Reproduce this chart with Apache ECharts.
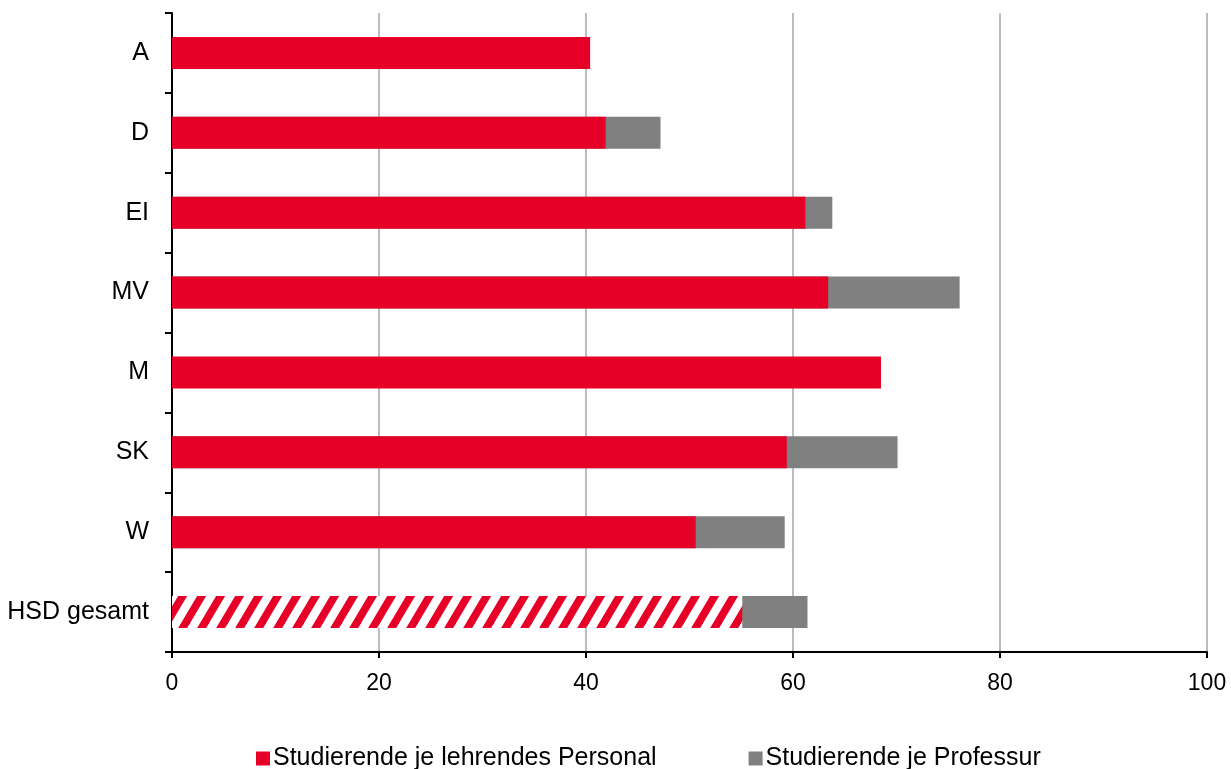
<!DOCTYPE html>
<html>
<head>
<meta charset="utf-8">
<script src="https://cdn.jsdelivr.net/npm/echarts@6/dist/echarts.min.js"></script>
<style>
html,body{margin:0;padding:0;background:#fff;}
#chart{width:1231px;height:769px;}
</style>
</head>
<body>
<div id="chart"></div>
<script>
var categories = ['A', 'D', 'EI', 'MV', 'M', 'SK', 'W', 'HSD gesamt'];
var lehrendes = [40.4, 41.9, 61.2, 63.4, 68.5, 59.4, 50.6, 55.1];
var professur = [null, 47.2, 63.8, 76.1, null, 70.1, 59.2, 61.4];
var xTicks = [0, 20, 40, 60, 80, 100];

var RED = '#E60028';
var GRAY = '#808080';

// hatch pattern for total bar
var pat = document.createElement('canvas');
pat.width = 19; pat.height = 32;
var c = pat.getContext('2d');
c.fillStyle = '#fff';
c.fillRect(0, 0, 19, 32);
c.fillStyle = RED;
function stripe(ox) {
  c.beginPath();
  c.moveTo(ox + 0, 32);
  c.lineTo(ox + 19, 0);
  c.lineTo(ox + 28, 0);
  c.lineTo(ox + 9, 32);
  c.closePath();
  c.fill();
}
stripe(-19); stripe(0); stripe(19);

var redData = lehrendes.map(function (v, i) {
  if (i === lehrendes.length - 1) {
    return { value: v, itemStyle: { color: { image: pat, repeat: 'repeat' } } };
  }
  return v;
});

var FONT = 'Liberation Sans, Arial, sans-serif';
var chart = echarts.init(document.getElementById('chart'), null, { renderer: 'canvas' });
chart.setOption({
  animation: false,
  backgroundColor: '#fff',
  textStyle: { fontFamily: FONT },
  grid: { left: 172, right: 24, top: 13, bottom: 117, containLabel: false },
  legend: {
    data: [
      { name: 'Studierende je lehrendes Personal', itemStyle: { color: RED } },
      { name: 'Studierende je Professur', itemStyle: { color: GRAY } }
    ],
    left: 251, top: 741,
    icon: 'rect', itemWidth: 14, itemHeight: 14, itemGap: 92,
    textStyle: { fontSize: 25, color: '#000', fontFamily: FONT, padding: [0, 0, 0, -2] }
  },
  xAxis: {
    type: 'value', min: 0, max: 100, interval: 20,
    axisLine: { show: true, lineStyle: { color: '#000', width: 2 } },
    axisTick: { show: true, length: 6, lineStyle: { color: '#000', width: 2 } },
    axisLabel: { fontSize: 23, color: '#000', margin: 20,
      formatter: function (v) { return xTicks.indexOf(v) >= 0 ? String(v) : ''; } },
    splitLine: { show: true, lineStyle: { color: '#A6A6A6', width: 1.5 } }
  },
  yAxis: {
    type: 'category', data: categories, inverse: true,
    axisLine: { show: true, lineStyle: { color: '#000', width: 2 } },
    axisTick: { show: true, length: 7, lineStyle: { color: '#000', width: 2 } },
    axisLabel: { fontSize: 25, color: '#000', margin: 23 },
    splitLine: { show: false }
  },
  series: [
    {
      name: 'Studierende je Professur', type: 'bar', data: professur,
      barWidth: 32, barGap: '-100%', itemStyle: { color: GRAY }, z: 2
    },
    {
      name: 'Studierende je lehrendes Personal', type: 'bar', data: redData,
      barWidth: 32, barGap: '-100%', itemStyle: { color: RED }, z: 3
    }
  ]
});
</script>
</body>
</html>
